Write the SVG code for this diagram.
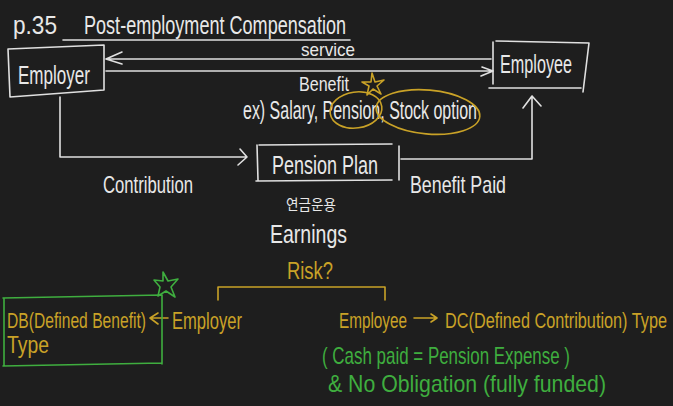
<svg xmlns="http://www.w3.org/2000/svg" width="673" height="406" viewBox="0 0 673 406">
<defs>
<style>
.bg{fill:#1e1e1e}
.w{fill:#e8e8e8;font-family:"Liberation Sans","Noto Sans CJK KR",sans-serif}
.y{fill:#c9a227;font-family:"Liberation Sans",sans-serif}
.g{fill:#3fae3f;font-family:"Liberation Sans",sans-serif}
.lw{stroke:#e0e0e0;stroke-width:1.6;fill:none;stroke-linecap:round;stroke-linejoin:round}
.ly{stroke:#c9a227;stroke-width:1.6;fill:none;stroke-linecap:round;stroke-linejoin:round}
.lg{stroke:#3fae3f;stroke-width:1.6;fill:none;stroke-linecap:round;stroke-linejoin:round}
</style>
</defs>
<rect class="bg" x="0" y="0" width="673" height="406"/>

<g id="title">
<text class="w" x="13" y="34" font-size="26" textLength="44" lengthAdjust="spacingAndGlyphs">p.35</text>
<text class="w" x="84" y="34" font-size="26" textLength="262" lengthAdjust="spacingAndGlyphs">Post-employment Compensation</text>
<path class="lw" d="M63 40 L350 40"/>
</g>

<g id="employer">
<path class="lw" d="M8 49 L104 45 L104 90 L10 97 Z"/>
<text class="w" x="18" y="84" font-size="26" textLength="72" lengthAdjust="spacingAndGlyphs">Employer</text>
</g>

<g id="employee">
<path class="lw" d="M496 41 L589 43 L583 92 M493 42 L493 84 M489 88 L581 88"/>
<text class="w" x="500" y="73" font-size="25" textLength="72" lengthAdjust="spacingAndGlyphs">Employee</text>
</g>

<g id="pension-plan">
<path class="lw" d="M259 145 L392 144 M257 145 L258 180 M256 181 L392 180 M399 146 L399 180"/>
<text class="w" x="272" y="174" font-size="26" textLength="106" lengthAdjust="spacingAndGlyphs">Pension Plan</text>
</g>

<g id="connectors">
<path class="lw" d="M106 59 L491 59 M106 59 L122 52 M106 59 L122 64"/>
<path class="lw" d="M106 71 L493 71 M493 71 L482 67 M493 71 L481 76"/>
<path class="lw" d="M60 97 L60 157 L247 157 M247 157 L240 149 M247 157 L238 165"/>
<path class="lw" d="M401 159 L532 159 L532 96 M532 96 L523 108 M532 96 L541 106"/>
<path class="ly" d="M218 300 L218 287 L385 287 L385 300"/>
<path class="ly" d="M168 318 L150 318 M150 318 L158 313 M150 318 L158 324"/>
<path class="ly" d="M414 318 L437 318 M437 318 L431 314 M437 318 L431 322"/>
</g>

<g id="labels">
<text class="w" x="301" y="56" font-size="19" textLength="54" lengthAdjust="spacingAndGlyphs">service</text>
<text class="w" x="299" y="91" font-size="21" textLength="50" lengthAdjust="spacingAndGlyphs">Benefit</text>
<text class="w" x="243" y="119" font-size="25" textLength="234" lengthAdjust="spacingAndGlyphs">ex) Salary, Pension, Stock option</text>
<text class="w" x="103" y="193" font-size="24" textLength="90" lengthAdjust="spacingAndGlyphs">Contribution</text>
<text class="w" x="410" y="193" font-size="24" textLength="96" lengthAdjust="spacingAndGlyphs">Benefit Paid</text>
<text class="w" x="286" y="210" font-size="15" textLength="50" lengthAdjust="spacingAndGlyphs">연금운용</text>
<text class="w" x="270" y="243" font-size="25" textLength="77" lengthAdjust="spacingAndGlyphs">Earnings</text>
<text class="y" x="287" y="279" font-size="23" textLength="46" lengthAdjust="spacingAndGlyphs">Risk?</text>
</g>

<g id="highlights">
<ellipse class="ly" cx="356" cy="110" rx="26" ry="18" transform="rotate(-8 356 110)"/>
<ellipse class="ly" cx="428" cy="112" rx="52" ry="22" transform="rotate(5 428 112)"/>
<path class="ly" d="M372 73 L375 82 L384 80 L377 86 L381 94 L373 89 L367 95 L369 86 L362 82 L371 82 Z" stroke-width="1.3"/>
</g>

<g id="db-type">
<path class="lg" d="M3 298 L162 295 L162 364 M4 298 L4 366 M3 366 L162 363"/>
<path class="lg" d="M163 272 L168 281 L178 279 L171 287 L175 297 L166 291 L158 296 L160 287 L154 280 L163 281 Z" stroke-width="1.4"/>
<text class="y" x="7" y="328" font-size="22" textLength="139" lengthAdjust="spacingAndGlyphs">DB(Defined Benefit)</text>
<text class="y" x="7" y="353" font-size="23" textLength="42" lengthAdjust="spacingAndGlyphs">Type</text>
<text class="y" x="172" y="329" font-size="24" textLength="70" lengthAdjust="spacingAndGlyphs">Employer</text>
</g>

<g id="dc-type">
<text class="y" x="339" y="328" font-size="22" textLength="68" lengthAdjust="spacingAndGlyphs">Employee</text>
<text class="y" x="445" y="328" font-size="22" textLength="222" lengthAdjust="spacingAndGlyphs">DC(Defined Contribution) Type</text>
<text class="g" x="322" y="364" font-size="24" textLength="248" lengthAdjust="spacingAndGlyphs">( Cash paid = Pension Expense )</text>
<text class="g" x="328" y="392" font-size="24" textLength="278" lengthAdjust="spacingAndGlyphs">&amp; No  Obligation  (fully funded)</text>
</g>
</svg>
